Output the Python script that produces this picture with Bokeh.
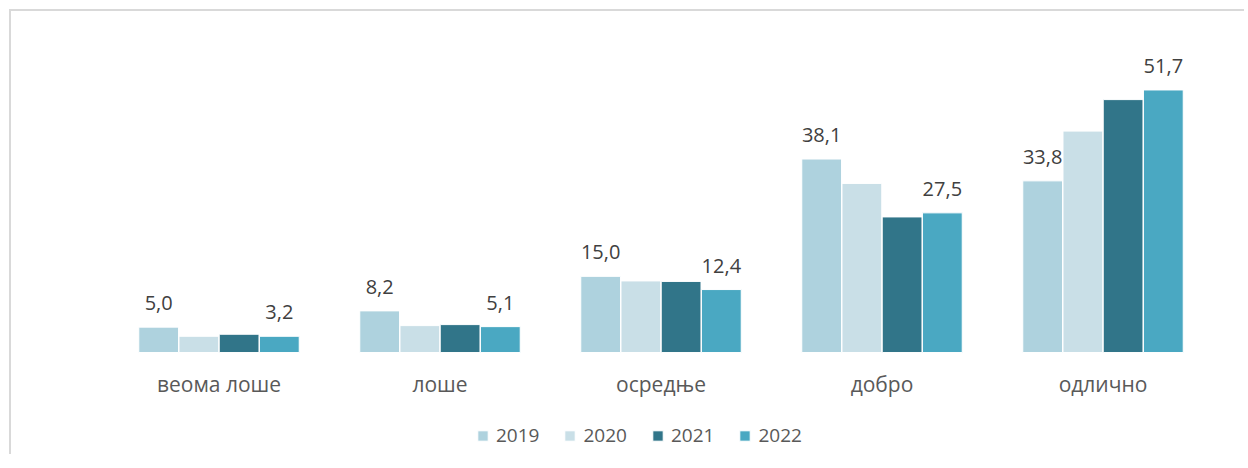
from bokeh.plotting import figure
from bokeh.models import ColumnDataSource, Legend, LegendItem, FactorRange
from bokeh.transform import dodge
from bokeh.core.properties import value
from bokeh.embed import file_html
from bokeh.resources import INLINE

categories = ["веома лоше", "лоше", "осредње", "добро", "одлично"]
years = ["2019", "2020", "2021", "2022"]
v2019 = [5.0, 8.2, 15.0, 38.1, 33.8]
v2020 = [3.2, 5.3, 14.1, 33.3, 43.6]
v2021 = [3.6, 5.5, 14.0, 26.7, 49.8]
v2022 = [3.2, 5.1, 12.4, 27.5, 51.7]
colors = ["#AED2DE", "#C9DFE7", "#317589", "#4AA8C2"]
labelled = ["2019", "2022"]

def fmt(v):
    return ("%.1f" % v).replace(".", ",")

data = {"cat": categories, "2019": v2019, "2020": v2020, "2021": v2021, "2022": v2022,
        "zero": [0] * len(categories)}
for y in years:
    data["lbl" + y] = [fmt(v) for v in data[y]]
src = ColumnDataSource(data)

FONT = "Open Sans"

p = figure(x_range=FactorRange(*categories, range_padding=0), y_range=(-20.47, 63.8),
           width=1235, height=445, output_backend="svg", toolbar_location=None,
           min_border_left=97, min_border_right=33, min_border_top=17, min_border_bottom=0)
p.styles = {"border-top": "2px solid #d9d9d9", "border-left": "2px solid #d9d9d9",
            "margin-top": "9px", "margin-left": "9px"}

offsets = [-0.273, -0.091, 0.091, 0.273]
items = []
for y, c, off in zip(years, colors, offsets):
    r = p.vbar(x=dodge("cat", off, range=p.x_range), top=y, width=0.18, source=src,
               fill_color=c, line_color="white", line_width=1)
    items.append(LegendItem(label=y, renderers=[r]))
    if y in labelled:
        p.text(x=dodge("cat", off, range=p.x_range), y=y, text="lbl" + y, source=src,
               text_align="center", text_baseline="bottom", y_offset=-17,
               text_font=value(FONT), text_font_size="20px", text_color="#404040")

# category labels under the baseline
p.text(x="cat", y="zero", text="cat", source=src, text_align="center",
       text_baseline="middle", y_offset=31, text_font=value(FONT),
       text_font_size="21px", text_color="#595959")

p.xaxis.visible = False
p.yaxis.visible = False
p.xgrid.visible = False
p.ygrid.visible = False
p.outline_line_color = None

legend = Legend(items=items, orientation="horizontal", location=(368, 8),
                label_text_font=FONT, label_text_font_size="19px", label_text_color="#595959",
                glyph_width=13, glyph_height=13, label_standoff=7, spacing=24,
                border_line_color=None, background_fill_alpha=0, margin=0, padding=0)
p.add_layout(legend, "center")

open("out.html", "w").write(file_html(p, INLINE))
